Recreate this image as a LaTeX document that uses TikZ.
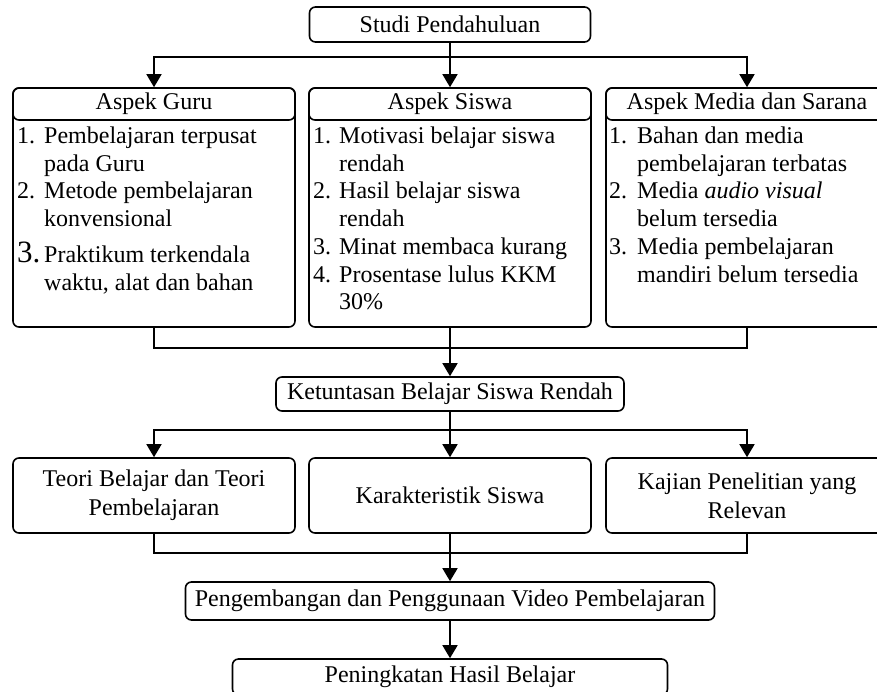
\documentclass[tikz,border=0pt]{standalone}
\usepackage{fontspec}
\setmainfont{Liberation Serif}
\usepackage{tikz}
\usetikzlibrary{arrows.meta}
\tikzstyle{bx}=[rectangle,rounded corners=6pt,draw=black,line width=1.6pt,
  inner sep=1pt,minimum width=282pt,align=center,font=\fontsize{24}{29}\selectfont]
\tikzstyle{hd}=[bx,minimum height=32pt]
\tikzstyle{lst}=[inner sep=0pt,anchor=north west,font=\fontsize{24}{27.7}\selectfont]
\tikzstyle{ln}=[line width=1.6pt,line cap=rect]
\tikzstyle{arr}=[line width=1.6pt,-{Triangle[width=15pt,length=13pt]}]
\tikzstyle{none}=[]

\begin{document}
\begin{tikzpicture}[x=1pt,y=-1pt]
		\useasboundingbox (0,0) rectangle (877,691);
		\node [style=bx,minimum width=281pt,minimum height=35pt] (0) at (450,24.5) {Studi Pendahuluan};
		\node [style=none] (1) at (450,57) {};
		\node [style=none] (2) at (154,57) {};
		\node [style=none] (3) at (747,57) {};
		\node [style=bx,minimum height=239pt] (4) at (154,207.5) {};
		\node [style=bx,minimum height=239pt] (5) at (450,207.5) {};
		\node [style=bx,minimum height=239pt] (6) at (747,207.5) {};
		\node [style=hd] (7) at (154,104) {Aspek Guru};
		\node [style=hd] (8) at (450,104) {Aspek Siswa};
		\node [style=hd] (9) at (747,104) {Aspek Media dan Sarana};
		\node [style=lst] (10) at (13,124) {\begin{tabular}{@{\hspace{4pt}}p{27pt}@{}l@{}}
			1. & Pembelajaran terpusat\\
			& pada Guru\\
			2. & Metode pembelajaran\\
			& konvensional\\[7pt]
			{\fontsize{31}{34}\selectfont 3.} & Praktikum terkendala\\
			& waktu, alat dan bahan
		\end{tabular}};
		\node [style=lst] (11) at (309,124) {\begin{tabular}{@{\hspace{4pt}}p{26pt}@{}l@{}}
			1. & Motivasi belajar siswa\\
			& rendah\\
			2. & Hasil belajar siswa\\
			& rendah\\
			3. & Minat membaca kurang\\
			4. & Prosentase lulus KKM\\
			& 30\%
		\end{tabular}};
		\node [style=lst] (12) at (606,124) {\begin{tabular}{@{\hspace{3pt}}p{28pt}@{}l@{}}
			1. & Bahan dan media\\
			& pembelajaran terbatas\\
			2. & Media \textit{audio visual}\\
			& belum tersedia\\
			3. & Media pembelajaran\\
			& mandiri belum tersedia
		\end{tabular}};
		\node [style=none] (13) at (154,348) {};
		\node [style=none] (14) at (747,348) {};
		\node [style=bx,minimum width=348pt,minimum height=34pt] (15) at (450,394) {Ketuntasan Belajar Siswa Rendah};
		\node [style=none] (16) at (450,430) {};
		\node [style=none] (17) at (154,430) {};
		\node [style=none] (18) at (747,430) {};
		\node [style=bx,minimum height=75pt] (19) at (154,495.5) {Teori Belajar dan Teori\\Pembelajaran};
		\node [style=bx,minimum height=75pt] (20) at (450,495.5) {Karakteristik Siswa};
		\node [style=bx,minimum height=75pt] (21) at (747,495.5) {Kajian Penelitian yang\\Relevan};
		\node [style=none] (22) at (154,553) {};
		\node [style=none] (23) at (747,553) {};
		\node [style=bx,minimum width=529pt,minimum height=38pt] (24) at (450,601) {Pengembangan dan Penggunaan Video Pembelajaran};
		\node [style=bx,minimum width=435pt,minimum height=36pt] (25) at (450,677) {Peningkatan Hasil Belajar};
		\draw [style=ln] (0) to (1.center);
		\draw [style=ln] (2.center) to (3.center);
		\draw [style=arr] (2.center) to (7);
		\draw [style=arr] (1.center) to (8);
		\draw [style=arr] (3.center) to (9);
		\draw [style=ln] (4) to (13.center);
		\draw [style=ln] (13.center) to (14.center);
		\draw [style=ln] (6) to (14.center);
		\draw [style=arr] (5) to (15);
		\draw [style=ln] (15) to (16.center);
		\draw [style=ln] (17.center) to (18.center);
		\draw [style=arr] (17.center) to (19);
		\draw [style=arr] (16.center) to (20);
		\draw [style=arr] (18.center) to (21);
		\draw [style=ln] (19) to (22.center);
		\draw [style=ln] (22.center) to (23.center);
		\draw [style=ln] (21) to (23.center);
		\draw [style=arr] (20) to (24);
		\draw [style=arr] (24) to (25);
\end{tikzpicture}
\end{document}
